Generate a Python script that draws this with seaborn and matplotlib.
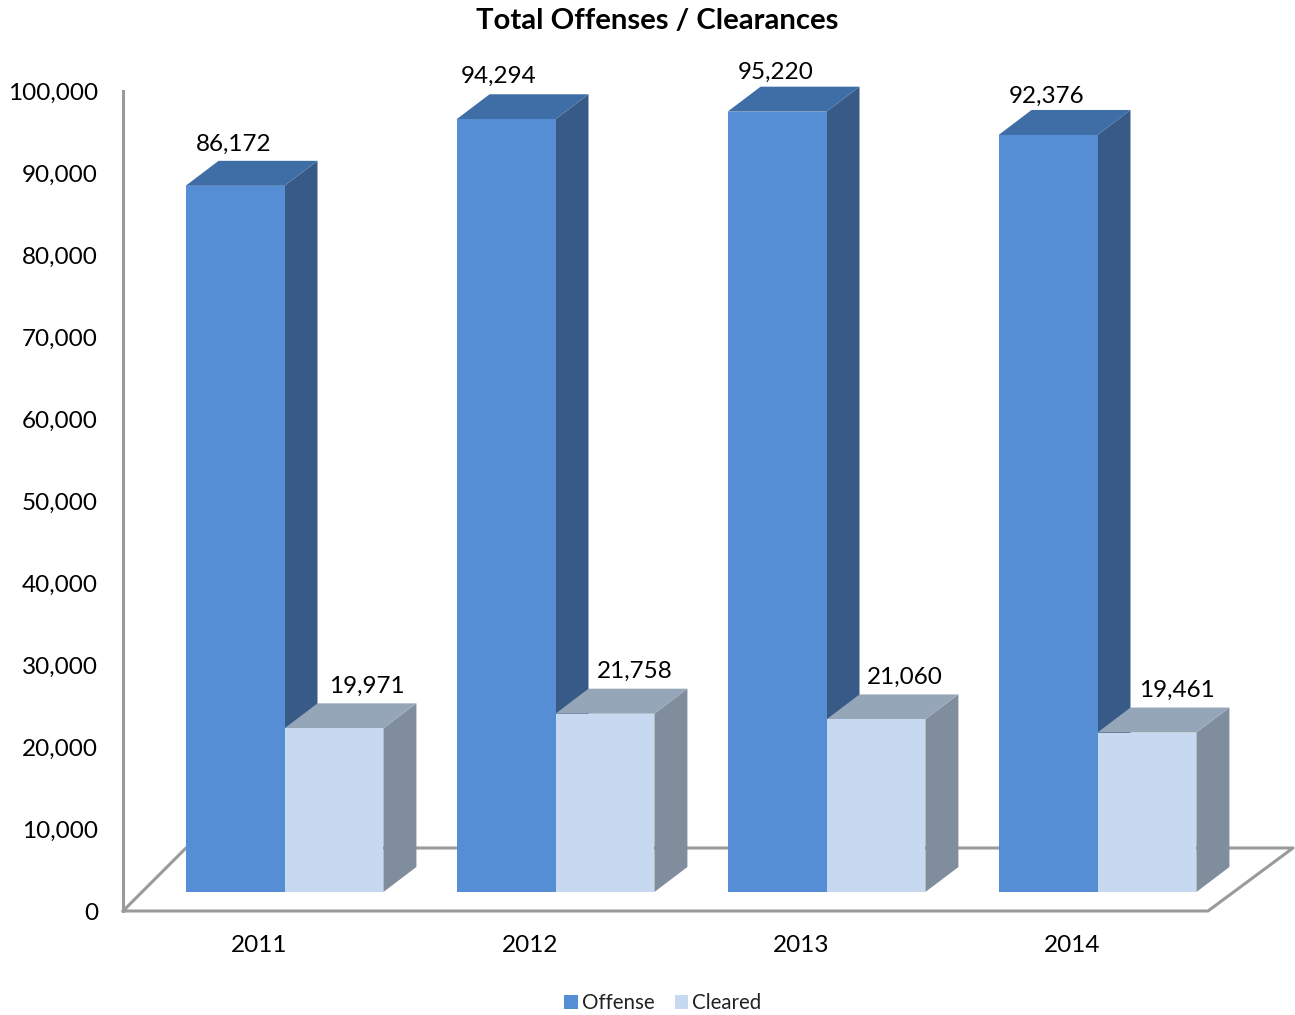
import numpy as np
import pandas as pd
import seaborn as sns
import matplotlib.pyplot as plt
from matplotlib.patches import Polygon
from matplotlib.lines import Line2D
from matplotlib.transforms import Affine2D

# chart values
years = ["2011", "2012", "2013", "2014"]
offense = [86172, 94294, 95220, 92376]
cleared = [19971, 21758, 21060, 19461]
series_names = ["Offense", "Cleared"]
y_ticks = [0, 10000, 20000, 30000, 40000, 50000, 60000, 70000, 80000, 90000, 100000]

W, H = 1295, 1015
GREY = "#9a9a9a"
front_cols = ["#558ed5", "#c6d9f1"]
top_cols = ["#3f6ea6", "#96a6b9"]
side_cols = ["#375a87", "#7f8d9c"]

sns.set_theme(style="white")
plt.rcParams["font.family"] = ["Lato", "DejaVu Sans"]

df = pd.DataFrame({
    "year": years * 2,
    "kind": [series_names[0]] * 4 + [series_names[1]] * 4,
    "value": offense + cleared,
})


def px_axes(fig, left, top, right, bottom):
    return fig.add_axes([left / W, 1 - bottom / H, (right - left) / W, (bottom - top) / H])


fig = plt.figure(figsize=(W / 100, H / 100), dpi=100)

# floor of the 3d box, pixel coords
px = Affine2D().scale(1, -1).translate(0, H)
floor = [(123, 911), (1208, 911), (1293, 848), (186, 848), (123, 911)]
fig.add_artist(Line2D([p[0] for p in floor], [p[1] for p in floor], color=GREY, lw=2.2,
                      transform=px, zorder=-1))

# back axes only carries the tick labels and the wall line
wall = px_axes(fig, 123, 91, 1208, 911)
wall.set_xlim(-0.5, 3.5)
wall.set_ylim(0, 100000)
wall.set_xticks(range(4))
wall.set_xticklabels(years)
wall.set_yticks(y_ticks)
wall.set_yticklabels(["{:,}".format(t) for t in y_ticks])
wall.tick_params(axis="both", length=0, labelsize=17.5, colors="black")
wall.tick_params(axis="x", pad=17.5)
wall.tick_params(axis="y", pad=18)
wall.patch.set_alpha(0)
for s in ["top", "right", "bottom"]:
    wall.spines[s].set_visible(False)
wall.spines["left"].set_color(GREY)
wall.spines["left"].set_linewidth(2.2)

# front axes holds the bars
ax = px_axes(fig, 149, 72.5, 1233, 892)
sns.barplot(data=df, x="year", y="value", hue="kind", palette=front_cols, width=0.73,
            saturation=1, gap=0, legend=False, linewidth=0, ax=ax)
ax.set_xlim(-0.5, 3.5)
ax.set_ylim(0, 100000)
ax.axis("off")

dx = 33 / ((1233 - 149) / 4)
dy = 25 / (819.5 / 100000)

# label nudges in pixels, first row offense, second cleared
nudge_x = [[-1, -7, -1, -1], [33, 30, 29, 30]]
nudge_y = [[41, 43, 39, 39], [42, 42, 42, 42]]
for k, cont in enumerate(ax.containers):
    for j, bar in enumerate(cont):
        x0, w, h = bar.get_x(), bar.get_width(), bar.get_height()
        x1 = x0 + w
        z = 1 + k
        bar.set_zorder(z + 0.2)
        ax.add_patch(Polygon([(x1, 0), (x1 + dx, dy), (x1 + dx, h + dy), (x1, h)],
                             fc=side_cols[k], ec="none", zorder=z, clip_on=False))
        ax.add_patch(Polygon([(x0, h), (x1, h), (x1 + dx, h + dy), (x0 + dx, h + dy)],
                             fc=top_cols[k], ec="none", zorder=z, clip_on=False))
        ax.annotate("{:,}".format(int(h)), (x0 + w / 2, h),
                    xytext=(nudge_x[k][j] * 0.72, nudge_y[k][j] * 0.72),
                    textcoords="offset points", ha="center", va="center", fontsize=17.5,
                    color="black", annotation_clip=False, zorder=10)

fig.text(657 / W, 1 - 21 / H, "Total Offenses / Clearances", ha="center", va="center",
         fontsize=21.1, fontweight="bold", color="black")

handles = [Polygon([(0, 0), (1, 0), (1, 1), (0, 1)], fc=c, ec="none") for c in front_cols]
fig.legend(handles, series_names, loc="center", bbox_to_anchor=(663 / W, 1 - 1003 / H), ncol=2,
           frameon=False, fontsize=14.8, handlelength=0.65, handleheight=0.65, handletextpad=0.2,
           columnspacing=1.0, labelcolor="#222222")

fig.savefig("out.png", dpi=100)
